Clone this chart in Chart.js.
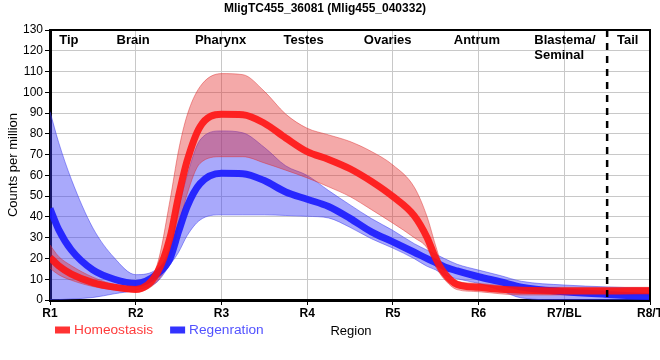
<!DOCTYPE html>
<html>
<head>
<meta charset="utf-8">
<script src="https://cdn.jsdelivr.net/npm/chart.js@4"></script>
<style>
  html, body { margin: 0; padding: 0; background: #fff; }
  #wrap { width: 660px; height: 360px; }
</style>
</head>
<body>
<div id="wrap"><canvas id="expr"></canvas></div>
<script>
// x positions along the body axis (1 = R1 ... 8 = R8/T)
const regions = ['R1', 'R2', 'R3', 'R4', 'R5', 'R6', 'R7/BL', 'R8/T'];
const xPos = [1, 1.1, 1.25, 1.5, 1.75, 2, 2.25, 2.4, 2.5, 2.6, 2.75, 3, 3.25, 3.5, 3.75, 4,
              4.25, 4.5, 4.75, 5, 5.25, 5.4, 5.5, 5.6, 5.75, 6, 6.25, 6.5, 7, 7.5, 8];

// Homeostasis: mean and band
const homeoMean = [20.5, 16.5, 12.5, 8.4, 6.2, 5.1, 13, 30, 50, 67, 83.4, 89.4, 89.2, 85.1, 78, 71.4,
                   67.7, 63.2, 57.1, 49.8, 40.5, 30, 20, 13, 7.5, 6.1, 5.2, 4.7, 4.3, 4.3, 4.5];
const homeoHigh = [26.5, 21, 16.5, 11, 7.5, 6.4, 17, 48, 72, 89, 102.7, 109, 108.5, 100.5, 89.5, 82.7,
                   79.5, 76.3, 71.5, 65, 54.3, 40, 26, 14, 9, 8, 7, 6.2, 6.1, 6.1, 6.1];
const homeoLow  = [15.3, 12.2, 9.5, 6.5, 4.8, 4, 9, 20, 35, 51, 65.8, 69, 69, 66, 62.5, 58.8,
                   54.5, 49.8, 43.5, 37, 30, 25, 16, 10, 5, 4, 3, 2.4, 2.4, 2.4, 2.4];

// Regeneration: mean and band
const regenMean = [44, 34, 24, 14.5, 10, 8, 12.5, 20, 33, 45, 56, 61, 60.8, 57.5, 52, 48.5,
                   45, 39.3, 32.8, 28, 23, 19.9, 18, 16, 14, 11.2, 8.8, 6.2, 4, 2.7, 1.6];
const regenHigh = [90.7, 76, 58, 34.7, 20.3, 12.2, 15, 25.7, 44, 60, 77, 81.4, 80.5, 73.5, 64.6, 60,
                   52.7, 45.8, 39.2, 33.5, 27.1, 24, 22, 20, 17.2, 14.4, 11.8, 9, 7.2, 6.3, 5.6];
const regenLow  = [0, 0.2, 0.5, 1.2, 3, 4.8, 8.7, 17, 23, 31, 38.5, 41, 41, 41, 40.7, 40.3,
                   39.5, 35, 29.5, 25, 19.9, 16.2, 14.5, 12, 10.2, 8, 4.7, 1, 0, 0, 0];

// body part names across the top
const areaNames = ['Tip', 'Brain', 'Pharynx', 'Testes', 'Ovaries', 'Antrum', 'Blastema/\nSeminal', 'Tail'];
const areaPos   = [1.22, 1.97, 2.99, 3.96, 4.94, 5.98, 6.65, 7.74];
const areaAlign = ['center', 'center', 'center', 'center', 'center', 'center', 'left', 'center'];
const tailStart = 7.5;

const FONT = '"Liberation Sans", Arial, sans-serif';
Chart.defaults.font.family = FONT;
Chart.defaults.color = '#000';

const pts = arr => xPos.map((x, i) => ({ x: x, y: arr[i] }));

const legendText = ['#ff3a3a', '#5252ff'];

const extras = {
  id: 'extras',
  afterDatasetsDraw(chart) {
    const { ctx, chartArea: a, scales: { x } } = chart;
    ctx.save();
    // tail boundary
    const px = x.getPixelForValue(tailStart);
    ctx.strokeStyle = '#000';
    ctx.lineWidth = 2.5;
    ctx.setLineDash([7, 6]);
    ctx.beginPath();
    ctx.moveTo(px, a.top);
    ctx.lineTo(px, a.bottom);
    ctx.stroke();
    ctx.setLineDash([]);
    // top and right frame
    ctx.lineWidth = 2;
    ctx.beginPath();
    ctx.moveTo(a.left, a.top);
    ctx.lineTo(a.right, a.top);
    ctx.lineTo(a.right, a.bottom);
    ctx.stroke();
    // region names
    ctx.fillStyle = '#000';
    ctx.font = 'bold 13px ' + FONT;
    ctx.textBaseline = 'middle';
    areaNames.forEach((name, i) => {
      ctx.textAlign = areaAlign[i];
      name.split('\n').forEach((ln, j) => {
        ctx.fillText(ln, x.getPixelForValue(areaPos[i]), a.top + 10 + j * 15);
      });
    });
    // legend
    ctx.font = '13.7px ' + FONT;
    ctx.textAlign = 'left';
    const ly = a.bottom + 30;
    let lx = a.left + 5;
    chart.data.datasets.slice(0, 2).forEach((ds, i) => {
      ctx.fillStyle = ds.backgroundColor;
      ctx.fillRect(lx, ly - 3.5, 15, 7);
      ctx.fillStyle = legendText[i];
      ctx.fillText(ds.label, lx + 19, ly);
      lx += 19 + ctx.measureText(ds.label).width + 17;
    });
    // x axis title
    ctx.font = '13px ' + FONT;
    ctx.fillStyle = '#000';
    ctx.textAlign = 'center';
    ctx.fillText('Region', (a.left + a.right) / 2 + 1, ly + 1);
    ctx.restore();
  }
};

const line = (label, data, color, fill) => ({
  label: label,
  data: pts(data),
  borderColor: color,
  backgroundColor: fill,
  borderWidth: 7,
  pointRadius: 0,
  fill: false,
  cubicInterpolationMode: 'monotone'
});
const band = (label, data, edge, fill, to) => ({
  label: label,
  data: pts(data),
  borderColor: edge,
  backgroundColor: fill,
  borderWidth: 1,
  pointRadius: 0,
  fill: to,
  cubicInterpolationMode: 'monotone'
});

new Chart(document.getElementById('expr'), {
  type: 'line',
  data: {
    datasets: [
      line('Homeostasis', homeoMean, 'rgba(255,20,20,0.9)', '#ff3333'),
      line('Regenration', regenMean, 'rgba(25,25,255,0.9)', '#3333ff'),
      band('Homeostasis high', homeoHigh, 'rgba(220,40,40,0.45)', 'rgba(228,40,40,0.4)', '+1'),
      band('Homeostasis low', homeoLow, 'rgba(220,40,40,0.45)', 'rgba(228,40,40,0.4)', false),
      band('Regenration high', regenHigh, 'rgba(60,60,240,0.5)', 'rgba(55,55,245,0.43)', '+1'),
      band('Regenration low', regenLow, 'rgba(60,60,240,0.5)', 'rgba(55,55,245,0.43)', false)
    ]
  },
  options: {
    responsive: true,
    maintainAspectRatio: false,
    animation: false,
    layout: { padding: { left: 0, right: 10, top: 0, bottom: 40 } },
    plugins: {
      legend: { display: false },
      tooltip: { enabled: false },
      title: {
        display: true,
        text: 'MligTC455_36081 (Mlig455_040332)',
        font: { size: 12, weight: 'bold' },
        padding: { top: 1, bottom: 14.6 }
      }
    },
    scales: {
      x: {
        type: 'linear',
        min: 1,
        max: 8,
        afterFit: s => { s.paddingLeft = 0; s.paddingRight = 0; s.height = 20; },
        ticks: {
          stepSize: 1,
          font: { size: 12, weight: 'bold' },
          padding: 1,
          maxRotation: 0,
          autoSkip: false,
          callback: v => regions[v - 1]
        },
        grid: { color: '#c8c8c8', tickColor: '#000', tickLength: 5 },
        border: { color: '#000', width: 3 }
      },
      y: {
        min: 0,
        max: 130,
        afterFit: s => { s.width = 50; },
        ticks: { stepSize: 10, font: { size: 12 }, padding: 2 },
        grid: { color: '#c8c8c8', tickColor: '#000', tickLength: 5 },
        border: { color: '#000', width: 3 },
        title: { display: true, text: 'Counts per million', font: { size: 13 }, padding: { top: 6, bottom: 0 } }
      }
    }
  },
  plugins: [extras]
});
</script>
</body>
</html>
